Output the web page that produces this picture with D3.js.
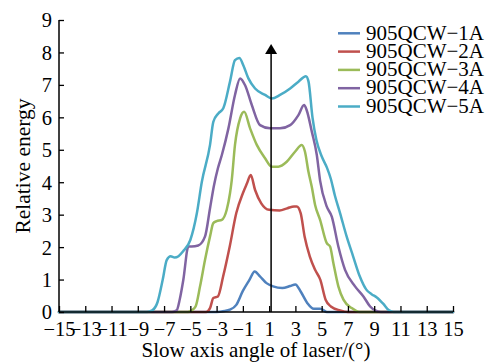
<!DOCTYPE html>
<html><head><meta charset="utf-8">
<script src="https://cdn.jsdelivr.net/npm/d3@7/dist/d3.min.js"></script>
<style>body{margin:0;background:#fff}svg{display:block}svg text{font-family:"Liberation Serif",serif !important;fill:#000}</style>
</head><body>
<svg id="c" width="488" height="363"></svg>
<script>
const seriesNames = ["905QCW\u22121A","905QCW\u22122A","905QCW\u22123A","905QCW\u22124A","905QCW\u22125A"];
const seriesColors = ["#4F81BD","#C0504D","#9BBB59","#8064A2","#4BACC6"];
const xTicks = [-15,-13,-11,-9,-7,-5,-3,-1,1,3,5,7,9,11,13,15];
const yTicks = [0,1,2,3,4,5,6,7,8,9];

const angle1A = [-15,-3.0,-2.4,-2.0,-1.5,-1.0,-0.5,-0.1,0.3,0.8,1.3,2.0,2.6,3.0,3.4,3.9,4.4,4.9,5.4,15];
const energy1A = [0,0,0.03,0.07,0.22,0.65,0.99,1.25,1.1,0.89,0.79,0.74,0.8,0.85,0.63,0.28,0.1,0.1,0,0];

const angle2A = [-15,-3.8,-3.5,-3.25,-2.9,-2.5,-2.0,-1.5,-1.0,-0.7,-0.4,-0.07,0.4,1.0,1.8,2.4,2.9,3.1,3.4,3.7,4.1,4.5,4.9,5.3,5.7,6.4,7.0,15];
const energy2A = [0,0,0.12,0.43,0.48,1.1,2.02,3.05,3.66,3.95,4.22,3.76,3.35,3.15,3.13,3.2,3.25,3.25,3.05,2.33,1.71,1.3,0.99,0.38,0.17,0.05,0,0];

const angle3A = [-15,-5.2,-4.9,-4.6,-4.26,-3.88,-3.5,-3.25,-3.0,-2.6,-2.23,-1.98,-1.85,-1.6,-1.21,-0.9,-0.45,0.06,0.69,1.2,1.7,2.34,2.97,3.48,3.73,3.99,4.25,4.5,4.88,5.39,5.64,5.89,6.27,6.66,7.29,7.9,15];
const energy3A = [0,0,0.05,0.17,0.79,1.61,2.33,2.74,2.8,2.84,3.15,3.66,4.05,5.15,5.97,6.17,5.66,5.15,4.74,4.48,4.48,4.63,4.94,5.15,4.94,4.33,3.85,3.3,2.84,2.12,2.02,1.51,0.79,0.38,0.12,0,0];

const angle4A = [-15,-6.4,-6.04,-5.8,-5.53,-5.15,-4.9,-4.4,-3.88,-3.5,-3.2,-2.9,-2.6,-2.1,-1.6,-1.21,-0.83,-0.32,0.31,1.07,1.83,2.6,3.23,3.66,3.86,4.25,4.63,4.88,5.39,5.77,6.27,6.78,7.54,8.18,8.69,9.07,9.5,15];
const energy4A = [0,0,0.05,0.4,1.0,2.02,2.02,2.05,2.33,3.2,3.9,4.43,4.84,5.66,6.69,7.2,6.99,6.38,5.76,5.66,5.66,5.76,6.07,6.38,6.22,5.56,4.84,4.05,3.25,2.94,2.02,1.3,0.79,0.48,0.17,0.05,0,0];

const angle5A = [-15,-8.3,-7.9,-7.5,-7.1,-6.8,-6.5,-6.2,-5.9,-5.55,-5.0,-4.5,-4.13,-3.5,-3.25,-2.87,-2.49,-1.98,-1.6,-1.27,-0.96,-0.58,-0.07,0.69,1.2,1.83,2.6,3.23,3.8,4.0,4.3,4.6,5.0,5.4,5.7,6.0,6.4,6.9,7.4,7.9,8.4,8.8,9.2,9.7,10.1,10.5,15];
const energy5A = [0,0,0.05,0.3,1.0,1.6,1.72,1.68,1.72,1.87,2.22,3.05,4.0,5.15,5.86,6.12,6.28,7.1,7.76,7.83,7.6,7.2,6.89,6.69,6.58,6.69,6.89,7.1,7.27,7.1,6.0,5.3,4.8,4.45,4.1,3.6,3.05,2.33,1.71,1.1,0.69,0.55,0.45,0.25,0.06,0,0];

const arrowX = 1.15;
const arrowTop = 8.2;

const angles = [angle1A,angle2A,angle3A,angle4A,angle5A];
const energies = [energy1A,energy2A,energy3A,energy4A,energy5A];
const FONT = "'Liberation Serif', serif";

const svg = d3.select("#c");
const m = {l:59, r:35, t:20, b:51};
const W = 488, H = 363;
const x = d3.scaleLinear().domain([-15,15]).range([m.l, W-m.r]);
const y = d3.scaleLinear().domain([0,9]).range([H-m.b, m.t]);

const line = d3.line().x(d=>x(d[0])).y(d=>y(d[1])).curve(d3.curveMonotoneX);
angles.forEach((a,i)=>{
  const pts = a.map((v,j)=>[v, energies[i][j]]);
  svg.append("path").datum(pts).attr("d", line)
    .attr("fill","none").attr("stroke", seriesColors[i]).attr("stroke-width",2.5)
    .attr("stroke-linejoin","round").attr("stroke-linecap","round");
});

// arrow
svg.append("line").attr("x1",x(arrowX)).attr("x2",x(arrowX)).attr("y1",y(0)).attr("y2",y(arrowTop)+8)
  .attr("stroke","#000").attr("stroke-width",1.5);
svg.append("path").attr("d",`M${x(arrowX)},${y(arrowTop)-2} l-6,10 l12,0 z`).attr("fill","#000");

// axes
const xAxis = svg.append("g").attr("transform",`translate(0,${y(0)})`)
  .call(d3.axisBottom(x).tickValues(xTicks).tickSize(-6).tickFormat(d=>d<0?"\u2212"+Math.abs(d):d));
xAxis.attr("font-family", FONT);
xAxis.select(".domain").attr("d",`M${x(-15)},0H${x(15)}`).attr("stroke","#000").attr("stroke-width",1.5);
xAxis.selectAll(".tick line").attr("stroke","#000").attr("stroke-width",1.3);
xAxis.selectAll(".tick text").style("font-family",FONT).style("font-size","20.5px").attr("y",9).attr("dy","0.71em");

const yAxis = svg.append("g").attr("transform",`translate(${x(-15)},0)`)
  .call(d3.axisLeft(y).tickValues(yTicks).tickSize(-5).tickFormat(d3.format("d")));
yAxis.attr("font-family", FONT);
yAxis.select(".domain").attr("d",`M0,${y(0)}V${y(9)}`).attr("stroke","#000").attr("stroke-width",1.5);
yAxis.selectAll(".tick line").attr("stroke","#000").attr("stroke-width",1.3);
yAxis.selectAll(".tick text").style("font-family",FONT).style("font-size","20.5px").attr("x",-7).attr("dy","0.34em");

// titles
svg.append("text").attr("x",(x(-15)+x(15))/2).attr("y",357).attr("text-anchor","middle")
  .style("font-family",FONT).style("font-size","21px").text("Slow axis angle of laser/(\u00b0)");
svg.append("text").attr("transform",`translate(30,${(y(0)+y(9))/2}) rotate(-90)`).attr("text-anchor","middle")
  .style("font-family",FONT).style("font-size","21.5px").text("Relative energy");

// legend
const lg = svg.append("g");
seriesNames.forEach((n,i)=>{
  const ly = 33.3 + i*18.3;
  lg.append("line").attr("x1",338).attr("x2",360).attr("y1",ly).attr("y2",ly)
    .attr("stroke",seriesColors[i]).attr("stroke-width",2.5);
  lg.append("text").attr("x",366).attr("y",ly+6.2).style("font-family",FONT).style("font-size","21px").text(n);
});
</script>
</body></html>
